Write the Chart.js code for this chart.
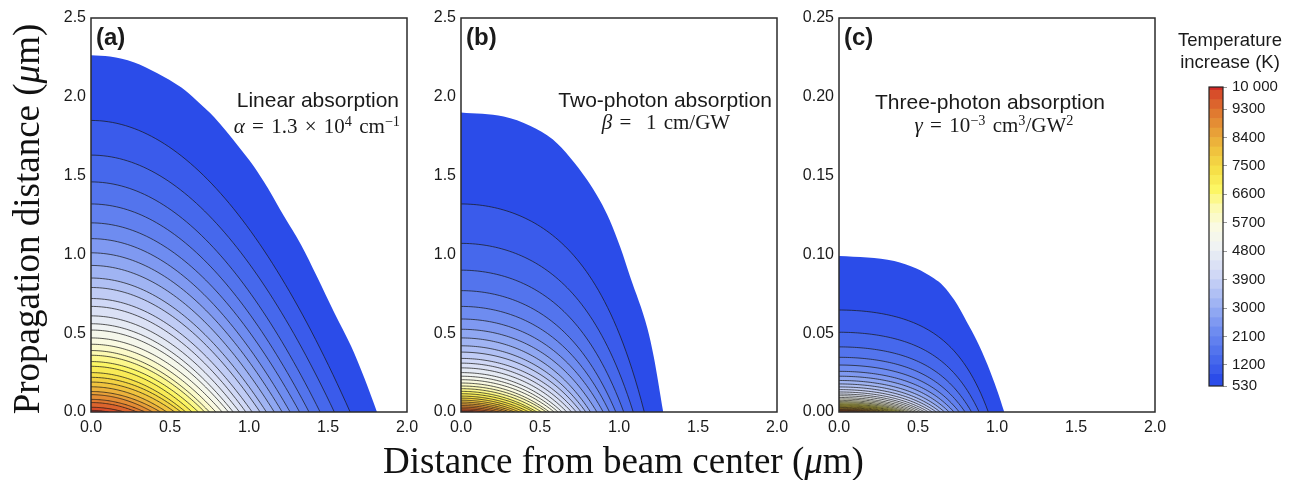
<!DOCTYPE html>
<html>
<head>
<meta charset="utf-8">
<script src="https://cdn.jsdelivr.net/npm/chart.js@4.4.1/dist/chart.umd.min.js"></script>
<style>
  html, body { margin: 0; padding: 0; background: #fff; }
  body { position: relative; width: 1295px; height: 480px; overflow: hidden;
         font-family: "Liberation Sans", Arial, sans-serif; color: #1a1a1a; }
  canvas { position: absolute; }
  .txt { position: absolute; white-space: nowrap; line-height: 24px; }
  .tag { font-weight: bold; font-size: 24px; line-height: 24px; }
  .name { font-size: 21px; }
  .math { font-family: "Liberation Serif", "DejaVu Serif", serif; font-size: 21px; word-spacing: 2px; }
  .math sup { font-size: 0.68em; vertical-align: 0.5em; line-height: 0; }
  .axis-title { position: absolute; white-space: nowrap; font-family: "Liberation Serif", serif;
                font-size: 37px; line-height: 36px; color: #111; }
  .cb-title { position: absolute; font-size: 18.5px; line-height: 22px; text-align: center; }
</style>
</head>
<body>

<canvas id="panelA" width="396" height="445" style="left:31px;top:0"></canvas>
<canvas id="panelB" width="396" height="445" style="left:401px;top:0"></canvas>
<canvas id="panelC" width="396" height="445" style="left:779px;top:0"></canvas>
<canvas id="colorbar" width="115" height="345" style="left:1180px;top:60px"></canvas>

<div class="txt tag" style="left:96px;top:25px">(a)</div>
<div class="txt tag" style="left:466px;top:25px">(b)</div>
<div class="txt tag" style="left:844px;top:25px">(c)</div>

<div class="txt name" style="right:896px;top:88px">Linear absorption</div>
<div class="txt math" style="right:895px;top:114px"><i>α</i> = 1.3 × 10<sup>4</sup> cm<sup>−1</sup></div>

<div class="txt name" style="right:523px;top:88px">Two-photon absorption</div>
<div class="txt math" style="left:666px;top:110px;transform:translateX(-50%)"><i>β</i> =&nbsp; 1 cm/GW</div>

<div class="txt name" style="left:990px;top:90px;transform:translateX(-50%)">Three-photon absorption</div>
<div class="txt math" style="left:994px;top:113px;transform:translateX(-50%)"><i>γ</i> = 10<sup>−3</sup> cm<sup>3</sup>/GW<sup>2</sup></div>

<div class="cb-title" style="left:1170px;top:29px;width:120px">Temperature<br>increase (K)</div>

<div class="axis-title" style="left:0;top:443px;width:1247px;text-align:center">Distance from beam center (<i>μ</i>m)</div>
<div class="axis-title" style="left:-173px;top:201px;width:400px;text-align:center;transform:rotate(-90deg)">Propagation distance (<i>μ</i>m)</div>

<script>
// Contour levels of the temperature increase (K); 530 K is the outer edge of each map
const temperatureLevels = [530, 900, 1200, 1500, 1800, 2100, 2400, 2700, 3000, 3300, 3600,
  3900, 4200, 4500, 4800, 5100, 5400, 5700, 6000, 6300, 6600, 6900, 7200, 7500, 7800,
  8100, 8400, 8700, 9000, 9300, 9600, 9900, 10000];
const colorbarTicks = [530, 1200, 2100, 3000, 3900, 4800, 5700, 6600, 7500, 8400, 9300, 10000];
const radialTicks = [0, 0.5, 1.0, 1.5, 2.0];
const axialTicksWide = [0, 0.5, 1.0, 1.5, 2.0, 2.5];
const axialTicksNarrow = [0, 0.05, 0.10, 0.15, 0.20, 0.25];

// (a) linear absorption: where each contour (900 ... 9900 K) meets the axes (µm)
const linearAxialIntercepts = [1.85, 1.63, 1.46, 1.32, 1.20, 1.10, 1.01, 0.93, 0.85, 0.79, 0.72,
  0.67, 0.61, 0.56, 0.52, 0.47, 0.43, 0.39, 0.36, 0.32, 0.29, 0.25, 0.22, 0.19, 0.16, 0.13,
  0.11, 0.08, 0.06, 0.03, 0.01];
const linearRadialIntercepts = [1.64, 1.54, 1.45, 1.38, 1.32, 1.26, 1.21, 1.16, 1.11, 1.07, 1.02,
  0.98, 0.94, 0.90, 0.87, 0.83, 0.79, 0.75, 0.72, 0.68, 0.64, 0.60, 0.57, 0.53, 0.48, 0.44,
  0.39, 0.34, 0.29, 0.21, 0.11];
const linearEdgeR = [0, 0.12, 0.27, 0.42, 0.57, 0.67, 0.78, 0.93, 1.03, 1.12, 1.22, 1.33, 1.43, 1.54, 1.645, 1.73, 1.81];
const linearEdgeZ = [2.263, 2.255, 2.22, 2.15, 2.06, 1.975, 1.87, 1.69, 1.56, 1.42, 1.245, 1.06, 0.86, 0.63, 0.42, 0.215, 0];

// (b) two-photon absorption
const twoPhotonAxialIntercepts = [1.32, 1.07, 0.90, 0.77, 0.67, 0.59, 0.525, 0.47, 0.42, 0.38,
  0.34, 0.31, 0.28, 0.25, 0.227, 0.205, 0.184, 0.165, 0.148, 0.131, 0.116, 0.101, 0.088,
  0.075, 0.063, 0.052, 0.041, 0.031, 0.021, 0.012, 0.004];
const twoPhotonRadialIntercepts = [1.16, 1.09, 1.03, 0.98, 0.94, 0.90, 0.86, 0.82, 0.79, 0.76,
  0.73, 0.70, 0.67, 0.64, 0.615, 0.59, 0.56, 0.54, 0.51, 0.48, 0.46, 0.43, 0.40, 0.37, 0.34,
  0.31, 0.28, 0.24, 0.20, 0.15, 0.08];
const twoPhotonEdgeR = [0, 0.27, 0.44, 0.58, 0.69, 0.80, 0.88, 0.94, 1.01, 1.07, 1.18, 1.22, 1.28];
const twoPhotonEdgeZ = [1.90, 1.875, 1.815, 1.73, 1.615, 1.47, 1.34, 1.22, 1.04, 0.86, 0.53, 0.35, 0];

// (c) three-photon absorption
const threePhotonAxialIntercepts = [0.0647, 0.0506, 0.0413, 0.0347, 0.0298, 0.0258, 0.0227,
  0.0200, 0.0178, 0.0159, 0.0142, 0.0127, 0.0114, 0.0103, 0.0092, 0.0083, 0.0074, 0.0066,
  0.0059, 0.0052, 0.0046, 0.0040, 0.0034, 0.0029, 0.0025, 0.0020, 0.0016, 0.0012, 0.0008,
  0.0005, 0.0002];
const threePhotonRadialIntercepts = [0.945, 0.887, 0.839, 0.798, 0.761, 0.728, 0.697, 0.668,
  0.641, 0.616, 0.591, 0.567, 0.544, 0.522, 0.500, 0.478, 0.457, 0.435, 0.414, 0.393, 0.371,
  0.349, 0.327, 0.303, 0.280, 0.254, 0.227, 0.197, 0.165, 0.123, 0.061];
const threePhotonEdgeR = [0, 0.18, 0.35, 0.49, 0.60, 0.66, 0.73, 0.81, 0.87, 0.94, 1.0, 1.046];
const threePhotonEdgeZ = [0.0990, 0.0980, 0.0958, 0.0910, 0.0848, 0.0800, 0.0710, 0.0570, 0.0457, 0.0300, 0.0140, 0];

// ---- colour map (blue -> white -> yellow -> red) ----
const colormapStops = [
  [530, [43, 76, 233]], [1200, [70, 104, 236]], [2100, [110, 140, 240]],
  [3000, [160, 180, 243]], [3900, [208, 216, 246]], [4800, [240, 243, 243]],
  [5400, [250, 250, 226]], [6000, [252, 250, 178]], [6600, [252, 246, 100]],
  [7200, [246, 224, 72]], [7800, [240, 195, 62]], [8400, [232, 160, 56]],
  [9000, [224, 122, 48]], [9600, [215, 78, 42]], [9900, [210, 40, 38]]
];
function colormap(t) {
  if (t <= colormapStops[0][0]) return colormapStops[0][1];
  for (let i = 1; i < colormapStops.length; i++) {
    const [t1, c1] = colormapStops[i];
    const [t0, c0] = colormapStops[i - 1];
    if (t <= t1) {
      const f = (t - t0) / (t1 - t0);
      return c0.map((c, j) => Math.round(c + f * (c1[j] - c)));
    }
  }
  return colormapStops[colormapStops.length - 1][1];
}
function bandColor(i) {
  const c = colormap(temperatureLevels[i]);
  return `rgb(${c[0]},${c[1]},${c[2]})`;
}

// Contour profile between its two axis intercepts. `flat` > 1 gives the flatter,
// squarer profile of multiphoton heating; 1 gives the parabolic linear-absorption shape.
function contourPoints(r0, z0, flat) {
  const pts = [];
  const n = 60;
  for (let i = 0; i <= n; i++) {
    const u = i / n;
    const f = flat > 1.0001 ? (flat - Math.pow(flat, u * u)) / (flat - 1) : 1 - u * u;
    pts.push({ x: r0 * u, y: z0 * f });
  }
  return pts;
}

const lineColor = 'rgba(25,25,25,0.8)';

function panelDatasets(axial, radial, edgeR, edgeZ, lengthScale) {
  const ds = [];
  // hottest contour first so it is painted on top of the cooler ones
  for (let k = axial.length - 1; k >= 0; k--) {
    const flat = lengthScale ? 1 + axial[k] / lengthScale : 1;
    ds.push({
      data: contourPoints(radial[k], axial[k], flat),
      backgroundColor: bandColor(k + 1),
      borderColor: lineColor,
      borderWidth: 0.9,
      fill: 'origin',
      pointRadius: 0,
      tension: 0
    });
  }
  // outer 530 K edge of the heated zone
  ds.push({
    data: edgeR.map((r, i) => ({ x: r, y: edgeZ[i] })),
    backgroundColor: bandColor(0),
    borderColor: bandColor(0),
    borderWidth: 0,
    fill: 'origin',
    pointRadius: 0,
    cubicInterpolationMode: 'monotone'
  });
  return ds;
}

const framePlugin = {
  id: 'frame',
  afterDatasetsDraw(chart) {
    const { ctx, chartArea: a } = chart;
    ctx.save();
    ctx.strokeStyle = '#2b2b2b';
    ctx.lineWidth = 1.5;
    ctx.strokeRect(a.left, a.top, a.right - a.left, a.bottom - a.top);
    ctx.restore();
  }
};

Chart.defaults.font.family = '"Liberation Sans", Arial, sans-serif';
Chart.defaults.color = '#1a1a1a';

function makePanel(id, datasets, yMax, yTicks, yDigits) {
  new Chart(document.getElementById(id), {
    type: 'line',
    data: { datasets },
    options: {
      responsive: false,
      devicePixelRatio: 1,
      animation: false,
      events: [],
      parsing: false,
      layout: { padding: { left: 0, top: 18, right: 20, bottom: 0 } },
      plugins: { legend: { display: false }, tooltip: { enabled: false } },
      scales: {
        x: {
          type: 'linear', min: 0, max: 2,
          afterBuildTicks: s => { s.ticks = radialTicks.map(v => ({ value: v })); },
          afterFit: s => { s.height = 33; },
          ticks: { callback: v => v.toFixed(1), padding: 6, font: { size: 16 }, maxRotation: 0, autoSkip: false },
          grid: { display: false, drawTicks: false },
          border: { display: false }
        },
        y: {
          type: 'linear', min: 0, max: yMax,
          afterBuildTicks: s => { s.ticks = yTicks.map(v => ({ value: v })); },
          afterFit: s => { s.width = 60; },
          ticks: { callback: v => v.toFixed(yDigits), padding: 5, font: { size: 16 }, autoSkip: false },
          grid: { display: false, drawTicks: false },
          border: { display: false }
        }
      }
    },
    plugins: [framePlugin]
  });
}

makePanel('panelA', panelDatasets(linearAxialIntercepts, linearRadialIntercepts, linearEdgeR, linearEdgeZ, 0), 2.5, axialTicksWide, 1);
makePanel('panelB', panelDatasets(twoPhotonAxialIntercepts, twoPhotonRadialIntercepts, twoPhotonEdgeR, twoPhotonEdgeZ, 0.568), 2.5, axialTicksWide, 1);
makePanel('panelC', panelDatasets(threePhotonAxialIntercepts, threePhotonRadialIntercepts, threePhotonEdgeR, threePhotonEdgeZ, 0.0163), 0.25, axialTicksNarrow, 2);

// ---- colour bar ----
const barSets = [];
for (let i = 0; i < temperatureLevels.length - 1; i++) {
  barSets.push({
    data: [[temperatureLevels[i], temperatureLevels[i + 1]]],
    backgroundColor: bandColor(i),
    borderWidth: 0,
    barPercentage: 1,
    categoryPercentage: 1,
    grouped: false
  });
}
new Chart(document.getElementById('colorbar'), {
  type: 'bar',
  data: { labels: ['T'], datasets: barSets },
  options: {
    responsive: false,
    devicePixelRatio: 1,
    animation: false,
    events: [],
    layout: { padding: { left: 29, top: 27, right: 0, bottom: 19 } },
    plugins: { legend: { display: false }, tooltip: { enabled: false } },
    scales: {
      x: { display: false },
      y: {
        position: 'right', min: 530, max: 10000,
        afterBuildTicks: s => { s.ticks = colorbarTicks.map(v => ({ value: v })); },
        afterFit: s => { s.width = 72; },
        ticks: { callback: v => v === 10000 ? '10 000' : String(v), padding: 5, font: { size: 15 }, autoSkip: false },
        grid: { drawOnChartArea: false, drawTicks: true, tickLength: 4, color: '#999' },
        border: { display: false }
      }
    }
  },
  plugins: [{
    id: 'barFrame',
    afterDatasetsDraw(chart) {
      const { ctx, chartArea: a } = chart;
      ctx.save();
      ctx.strokeStyle = '#222';
      ctx.lineWidth = 1.2;
      ctx.strokeRect(a.left, a.top, a.right - a.left, a.bottom - a.top);
      ctx.restore();
    }
  }]
});
</script>
</body>
</html>
